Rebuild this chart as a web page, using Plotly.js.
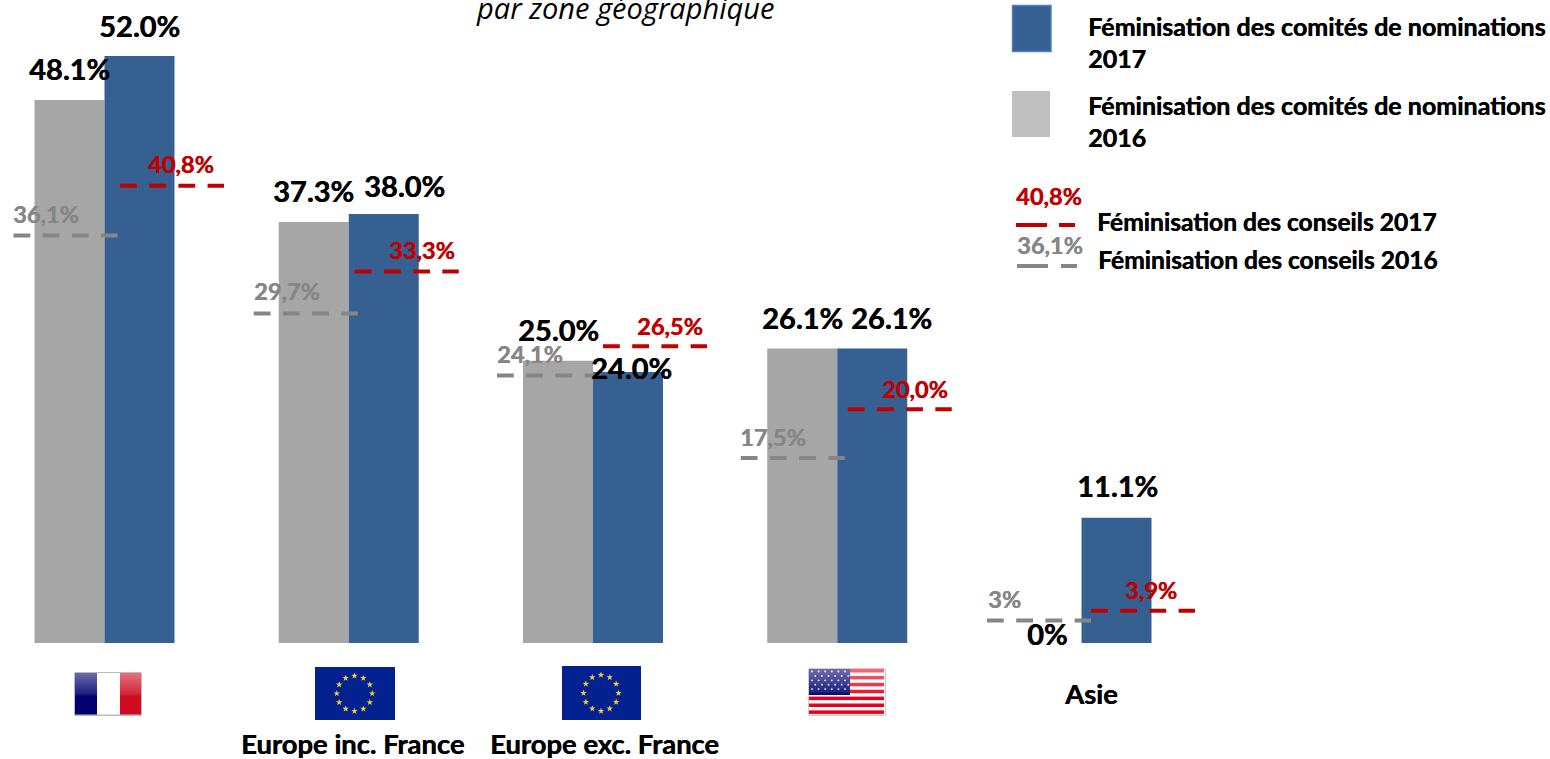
<!DOCTYPE html>
<html><head><meta charset="utf-8">
<script src="https://cdn.plot.ly/plotly-3.0.1.min.js"></script>
<style>html,body{margin:0;padding:0;background:#fff;overflow:hidden}#c{width:1550px;height:759px}</style>
</head><body><div id="c"></div>
<script>
// ---- data ----
const zones = [0, 1, 2, 3, 4];
const comites2016 = [48.1, 37.3, 25.0, 26.1, 0];
const comites2017 = [52.0, 38.0, 24.0, 26.1, 11.1];
const comites2016Labels = ['48.1%', '37.3%', '25.0%', '26.1%', '0%'];
const comites2017Labels = ['52.0%', '38.0%', '24.0%', '26.1%', '11.1%'];
const conseils2016 = [36.1, 29.2, 23.7, 16.4, 2.0];
const conseils2017 = [40.5, 32.9, 26.3, 20.7, 2.85];
const conseils2016Labels = ['36,1%', '29,7%', '24,1%', '17,5%', '3%'];
const conseils2017Labels = ['40,8%', '33,3%', '26,5%', '20,0%', '3,9%'];
const zoneNames = ['', 'Europe inc. France', 'Europe exc. France', '', 'Asie'];

// ---- layout helpers ----
const W = 1550, H = 759;
const pxPerZone = 244.25, firstZonePx = 104.5, basePx = 643, pxPerPct = 11.288;
const xr = [-firstZonePx / pxPerZone, (W - firstZonePx) / pxPerZone];
const yr = [-(H - basePx) / pxPerPct, basePx / pxPerPct];
const u = px => px / pxPerZone;
const blue = '#366092', grey = '#A6A6A6', red = '#C00000', dgrey = '#868686';
const labelFont = 'Lato, Carlito, sans-serif';
const thick = c => `0.5px 0 0 ${c}`;

// pixel offsets of the dashed segments from each zone centre
const grayStart = [-91, -95, -96, -96.5, -94.5], redStart = [15.5, 6, 10, 10.5, 9.5];
const segLen = 104;
function segs(startOff, levels) {
  const xs = [], ys = [];
  zones.forEach((z, i) => {
    xs.push(z + u(startOff[i]), z + u(startOff[i] + segLen), null);
    ys.push(levels[i], levels[i], null);
  });
  return { x: xs, y: ys };
}
const lineDash = '16.8px,12.4px';

const traces = [
  { type: 'bar', x: zones, y: comites2016, name: '2016', marker: { color: grey }, hoverinfo: 'skip' },
  { type: 'bar', x: zones, y: comites2017, name: '2017', marker: { color: blue }, hoverinfo: 'skip' },
  Object.assign({ type: 'scatter', mode: 'lines', line: { color: dgrey, width: 4, dash: lineDash }, hoverinfo: 'skip' }, segs(grayStart, conseils2016)),
  Object.assign({ type: 'scatter', mode: 'lines', line: { color: red, width: 4, dash: lineDash }, hoverinfo: 'skip' }, segs(redStart, conseils2017))
];

const anns = [];
function lab(x, y, text, color, size, xs, ys) {
  anns.push({ x, y, xref: 'x', yref: 'y', text, showarrow: false, xanchor: 'center', yanchor: 'middle',
    xshift: xs, yshift: ys, font: { family: labelFont, size, color, weight: 700, shadow: thick(color) } });
}
const c16dx = [-35, -35, -35, -35, -34.5], c16dy = [32, 31, 31, 31, 10];
const c17dx = [35, 56, 38, 54, 35.5], c17dy = [31, 29, 5, 31, 32];
const b16dx = [-58.5, -62, -63, -64.5, -77.5], b17dx = [76.5, 73, 77, 77.5, 69.5];
const b16dy = [22, 22, 21, 21, 21], b17dy = [22, 22, 20, 20, 21];
zones.forEach((z, i) => {
  lab(z, comites2016[i], comites2016Labels[i], '#000', 29, c16dx[i], c16dy[i]);
  lab(z, comites2017[i], comites2017Labels[i], '#000', 29, c17dx[i], c17dy[i]);
  lab(z, conseils2016[i], conseils2016Labels[i], dgrey, 23.5, b16dx[i], b16dy[i]);
  lab(z, conseils2017[i], conseils2017Labels[i], red, 23.5, b17dx[i], b17dy[i]);
  if (zoneNames[i]) anns.push({ x: z, y: 0, xref: 'x', yref: 'y', text: zoneNames[i], showarrow: false,
    xanchor: 'center', yanchor: 'middle', xshift: [0, 3.5, 11, 0, 9.5][i], yshift: i === 4 ? -50 : -100,
    font: { family: labelFont, size: 27.4, color: '#000', weight: 700, shadow: thick('#000') } });
});
const px = (x) => x / W, py = (y) => 1 - y / H;
function paperText(x, y, text, size, color) {
  anns.push({ x: px(x), y: py(y), xref: 'paper', yref: 'paper', text, showarrow: false, xanchor: 'left', yanchor: 'middle',
    align: 'left', font: { family: labelFont, size, color: color || '#000', weight: 700, shadow: thick(color || '#000') } });
}
paperText(1085.5, 26, 'Féminisation des comités de nominations', 25);
paperText(1085.5, 58, '2017', 25);
paperText(1085.5, 105, 'Féminisation des comités de nominations', 25);
paperText(1085.5, 137, '2016', 25);
paperText(1095, 221, 'Féminisation des conseils 2017', 24.6);
paperText(1095.5, 260, 'Féminisation des conseils 2016', 24.6);
paperText(1014, 196, '40,8%', 23.5, red);
paperText(1015, 245, '36,1%', 23.5, dgrey);
anns.push({ x: px(624.5), y: py(8), xref: 'paper', yref: 'paper', text: 'par zone géographique', showarrow: false, xanchor: 'center', yanchor: 'middle',
  font: { family: '"Open Sans", sans-serif', size: 29, color: '#000', style: 'italic' } });

const shapes = [
  { type: 'rect', xref: 'paper', yref: 'paper', x0: px(1012.5), x1: px(1051), y0: py(5.5), y1: py(51.5), fillcolor: blue, line: { color: '#4F81BD', width: 1.5 } },
  { type: 'rect', xref: 'paper', yref: 'paper', x0: px(1012), x1: px(1050), y0: py(91), y1: py(137), fillcolor: '#BFBFBF', line: { width: 0 } },
  { type: 'line', xref: 'paper', yref: 'paper', x0: px(1016), x1: px(1047), y0: py(225), y1: py(225), line: { color: red, width: 4 } },
  { type: 'line', xref: 'paper', yref: 'paper', x0: px(1059), x1: px(1075), y0: py(225), y1: py(225), line: { color: red, width: 4 } },
  { type: 'line', xref: 'paper', yref: 'paper', x0: px(1017), x1: px(1048), y0: py(266), y1: py(266), line: { color: dgrey, width: 4 } },
  { type: 'line', xref: 'paper', yref: 'paper', x0: px(1061), x1: px(1077), y0: py(266), y1: py(266), line: { color: dgrey, width: 4 } }
];

// ---- flags as inline SVG pictures ----
const svg = s => 'data:image/svg+xml;utf8,' + encodeURIComponent(s);
const gloss = '<linearGradient id="g" x1="0" y1="0" x2="0" y2="1"><stop offset="0" stop-color="#fff" stop-opacity=".42"/><stop offset=".5" stop-color="#fff" stop-opacity=".12"/><stop offset=".56" stop-color="#fff" stop-opacity="0"/></linearGradient>';
const fr = svg(`<svg xmlns="http://www.w3.org/2000/svg" width="68" height="44" viewBox="0 0 68 44"><defs>${gloss}</defs>
<rect x="0" y="0" width="68" height="44" rx="1.5" fill="#bbb"/><rect x="1" y="1" width="22" height="41.5" fill="#00006e"/><rect x="23" y="1" width="23" height="41.5" fill="#fff"/><rect x="46" y="1" width="21" height="41.5" fill="#cf0a20"/><rect x="1" y="1" width="66" height="41.5" fill="url(#g)"/></svg>`);
function star(cx, cy, r) {
  let d = '';
  for (let k = 0; k < 10; k++) {
    const a = -Math.PI / 2 + k * Math.PI / 5, rr = k % 2 ? r * 0.4 : r;
    d += (k ? 'L' : 'M') + (cx + rr * Math.cos(a)).toFixed(2) + ' ' + (cy + rr * Math.sin(a)).toFixed(2);
  }
  return `<path d="${d}Z" fill="#f2cf3a"/>`;
}
let stars = '';
for (let k = 0; k < 12; k++) {
  const a = k * Math.PI / 6;
  stars += star(39.5 + 17.7 * Math.sin(a), 26.5 - 17.7 * Math.cos(a), 3.4);
}
const eu = svg(`<svg xmlns="http://www.w3.org/2000/svg" width="80" height="53" viewBox="0 0 80 53"><rect width="80" height="53" fill="#03228f"/>${stars}</svg>`);
let stripes = '';
for (let k = 0; k < 7; k++) stripes += `<rect x="1" y="${1 + k * 6.9}" width="75" height="3.5" fill="#e8001c"/>`;
let dots = '';
for (let r = 0; r < 5; r++) for (let k = 0; k < 6; k++) dots += `<circle cx="${4 + k * 6.6 + (r % 2 ? 3.3 : 0)}" cy="${3.5 + r * 4.4}" r="0.9" fill="#fff"/>`;
const us = svg(`<svg xmlns="http://www.w3.org/2000/svg" width="78" height="48" viewBox="0 0 78 48"><defs>${gloss}</defs>
<rect width="78" height="48" rx="1.5" fill="#ccc"/><rect x="1" y="1" width="76" height="45.5" fill="#fff"/>${stripes}<rect x="1" y="1" width="41" height="26" fill="#00056e"/>${dots}<rect x="1" y="1" width="76" height="45.5" fill="url(#g)"/></svg>`);
const images = [[fr, 74, 672, 68, 44], [eu, 315, 667, 80, 53], [eu, 562, 666, 79, 54], [us, 808, 668, 78, 48]].map(([source, x, y, w, h]) => ({
  source, xref: 'paper', yref: 'paper', x: px(x), y: py(y), sizex: w / W, sizey: h / H, xanchor: 'left', yanchor: 'top', sizing: 'stretch', layer: 'above'
}));

const layout = {
  width: W, height: H, margin: { l: 0, r: 0, t: 0, b: 0 }, paper_bgcolor: '#fff', plot_bgcolor: '#fff',
  showlegend: false, barmode: 'group', bargap: 0.4268, bargroupgap: 0,
  xaxis: { range: xr, visible: false, fixedrange: true },
  yaxis: { range: yr, visible: false, fixedrange: true },
  annotations: anns, shapes, images
};
Plotly.newPlot('c', traces, layout, { displayModeBar: false, staticPlot: true });
</script></body></html>
